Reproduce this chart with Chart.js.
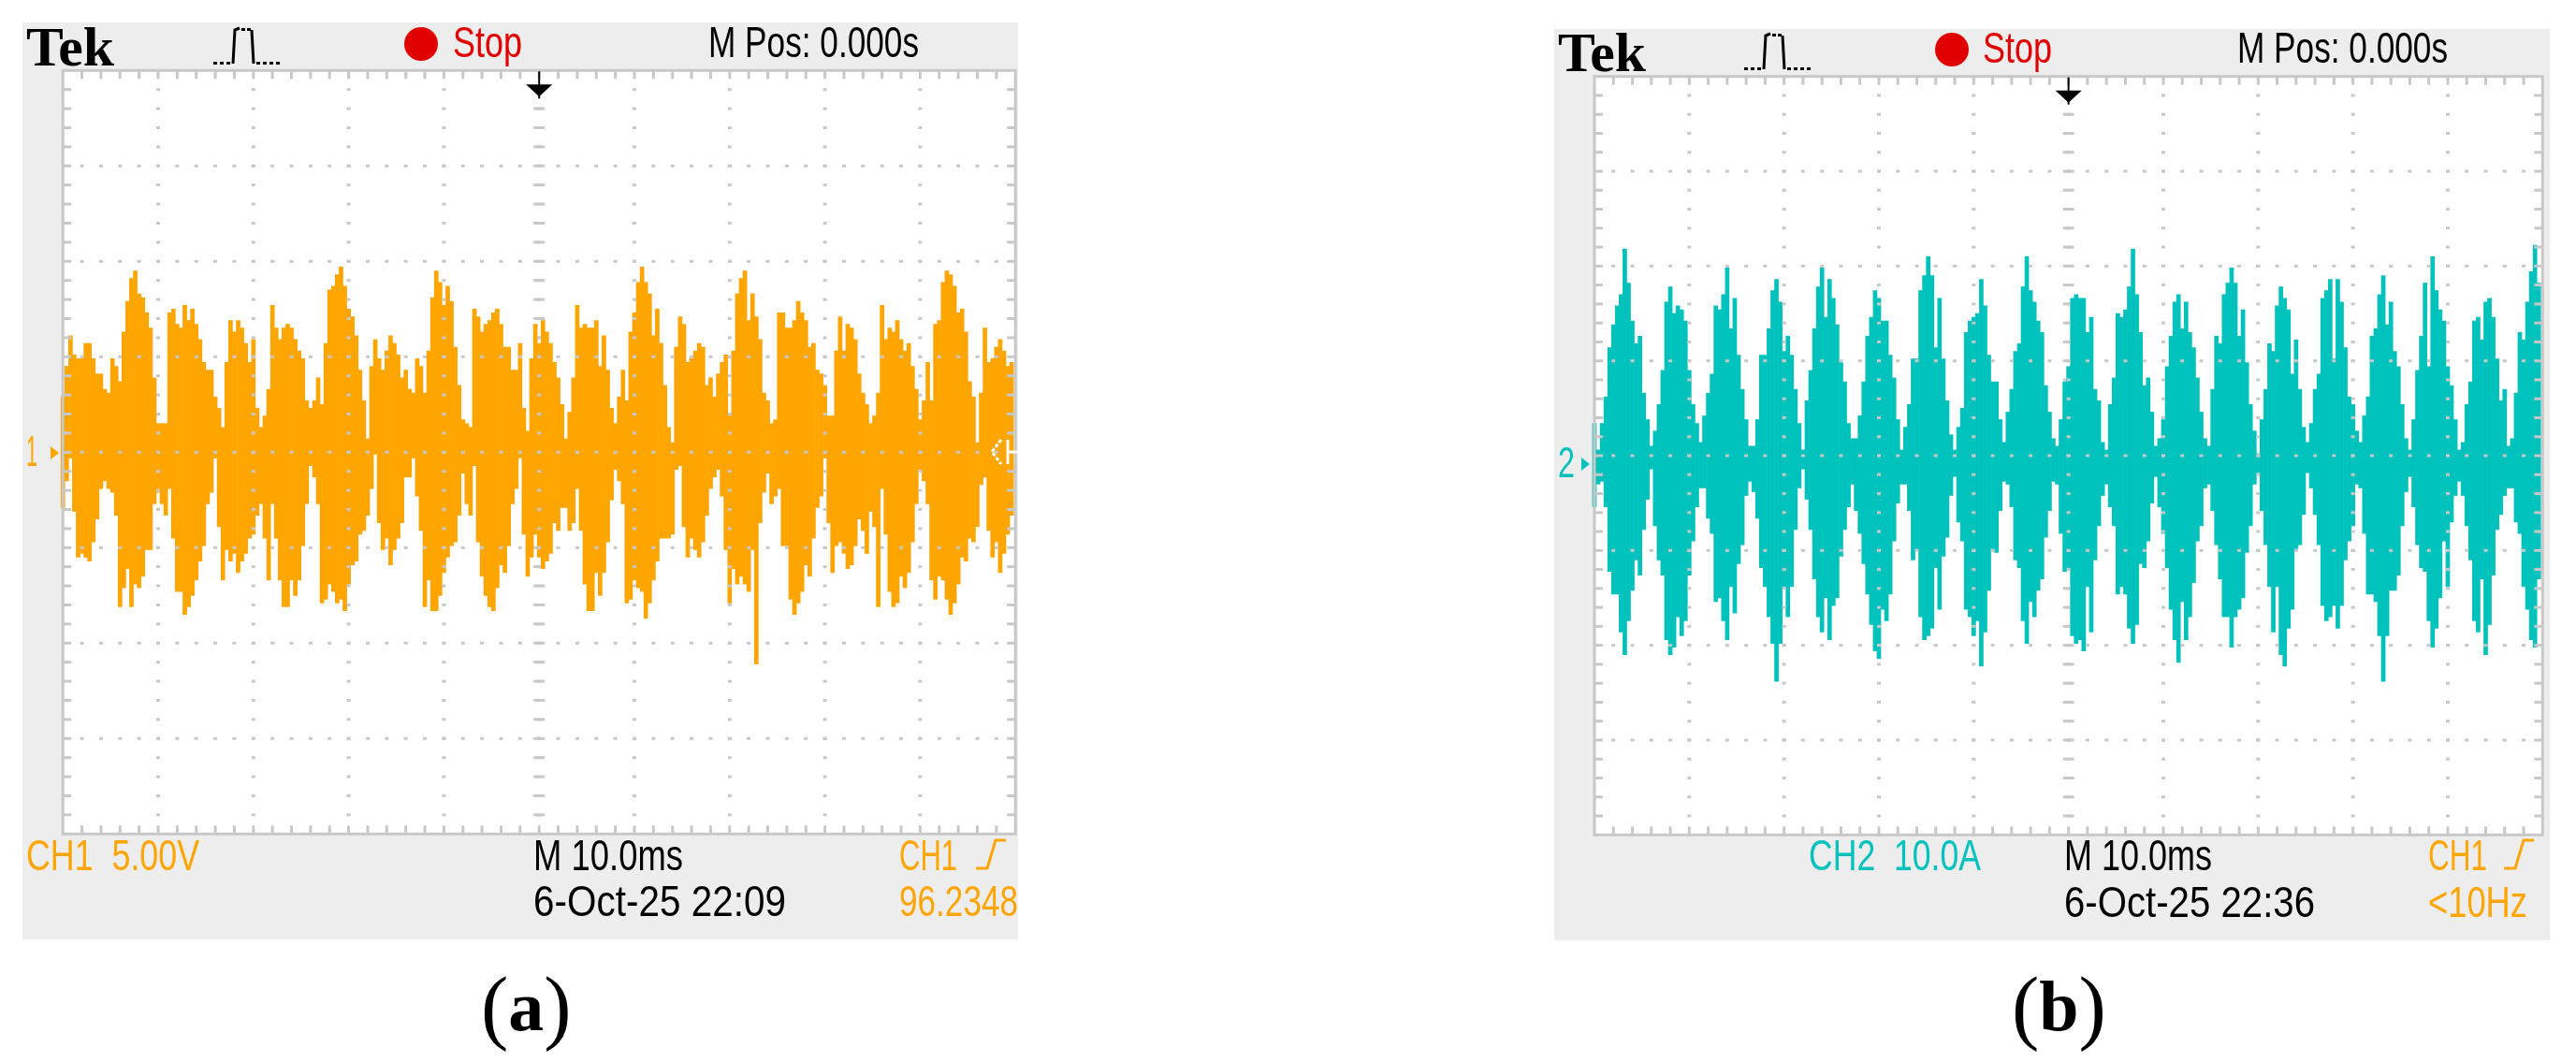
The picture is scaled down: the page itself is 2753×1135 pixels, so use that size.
<!DOCTYPE html>
<html>
<head>
<meta charset="utf-8">
<title>Tek scope captures</title>
<script src="https://cdn.jsdelivr.net/npm/chart.js@4"></script>
<style>
  html, body { margin: 0; padding: 0; background: #fff; }
  canvas { position: absolute; top: 0; }
</style>
</head>
<body>
<canvas id="scopeA"></canvas>
<canvas id="scopeB"></canvas>
<script>
// CH1 voltage, min/max per display column (V)
const ch1High = [
  2.9,4.5,6.1,5.1,4.9,4.9,5.7,5.7,4.9,4.1, 4.1,3.3,3.1,4.9,4.5,3.7,6.3,7.9,9.1,9.5,
  8.3,8.1,7.3,6.5,3.9,1.5,1.5,1.5,7.3,7.5, 6.7,6.5,7.7,6.9,7.5,6.7,5.9,4.7,4.3,4.3,
  2.9,2.3,1.3,4.7,6.9,6.3,6.9,6.5,5.7,4.7, 5.9,2.3,1.3,1.9,3.3,7.7,6.5,5.9,6.5,6.7,
  6.5,5.9,5.3,4.9,2.7,2.3,2.7,3.9,2.5,5.7, 8.5,8.7,9.3,9.7,8.7,7.5,7.1,6.1,4.3,2.7,
  0.7,4.5,5.9,4.9,4.3,5.3,6.1,5.7,5.1,3.9, 4.3,3.3,3.1,4.9,4.5,3.1,5.3,8.1,9.5,8.9,
  7.7,8.7,7.9,5.5,3.5,1.7,1.5,1.3,7.5,7.1, 6.3,6.7,6.9,7.3,7.5,6.7,5.5,5.5,4.3,4.3,
  5.7,2.3,1.1,4.9,6.7,5.7,6.9,6.3,5.7,4.7, 3.9,2.5,0.7,2.1,3.9,7.7,6.5,6.7,6.5,6.5,
  6.9,4.5,6.1,4.3,2.3,1.5,2.9,4.3,2.7,6.3, 7.3,8.9,9.7,8.9,8.3,6.1,7.5,5.7,3.5,1.3,
  0.5,5.5,7.1,6.7,4.7,4.9,5.3,5.7,5.5,3.5, 3.9,2.9,4.1,4.7,5.1,1.9,5.3,8.3,9.1,9.5,
  6.9,8.3,7.1,5.9,3.1,2.7,1.5,1.7,7.3,7.3, 6.5,6.5,6.9,7.9,7.3,6.9,5.5,5.7,4.3,4.1,
  3.5,1.9,1.9,5.3,7.1,5.3,6.7,6.5,5.9,4.1, 3.1,2.5,1.5,1.9,3.1,7.7,5.9,6.5,6.3,6.9,
  5.9,5.3,5.7,4.5,3.3,1.7,2.7,4.7,2.7,6.7, 6.9,8.9,9.5,9.3,8.7,7.3,7.5,6.3,3.7,2.9,
  0.5,3.1,6.5,4.7,4.9,5.5,5.9,5.3,4.5,4.7
];
const ch1Low = [
  -2.9,-1.5,-0.3,-3.1,-5.5,-5.3,-5.5,-5.7,-4.7,-3.5, -1.9,-1.5,-1.9,-2.1,-3.3,-8.1,-7.1,-6.1,-8.1,-6.9,
  -7.1,-6.5,-5.1,-5.1,-2.7,-2.1,-2.7,-3.3,-1.9,-4.5, -7.3,-7.3,-8.5,-8.1,-7.5,-6.7,-5.7,-4.9,-2.7,-2.1,
  -0.3,-3.9,-6.7,-5.1,-5.7,-5.3,-6.3,-5.7,-5.3,-4.5, -4.3,-3.3,-2.7,-4.5,-6.7,-2.7,-4.5,-6.7,-8.1,-8.1,
  -6.7,-7.5,-6.7,-4.9,-2.7,-0.7,-1.3,-2.7,-7.9,-7.7, -6.9,-7.3,-7.9,-7.7,-8.3,-6.9,-5.9,-5.7,-4.3,-4.1,
  -3.3,-1.9,-0.1,-3.7,-5.1,-4.5,-5.9,-5.1,-4.5,-3.7, -1.3,-1.3,-0.3,-2.3,-4.1,-8.1,-6.7,-8.3,-8.3,-7.5,
  -6.3,-5.5,-4.9,-4.7,-3.3,-1.1,-2.7,-3.3,-0.7,-4.7, -6.5,-7.5,-8.1,-8.3,-7.1,-5.9,-6.3,-4.9,-2.7,-1.9,
  -0.3,-4.3,-6.5,-5.5,-4.3,-5.5,-6.1,-5.7,-5.3,-3.7, -4.1,-2.9,-2.9,-4.1,-3.7,-1.9,-4.1,-6.9,-8.3,-8.3,
  -6.3,-7.5,-6.3,-4.7,-2.5,-0.9,-1.5,-2.7,-7.9,-7.7, -6.7,-7.1,-7.3,-8.7,-7.9,-6.7,-5.7,-4.5,-4.5,-4.5,
  -4.3,-0.9,-0.7,-3.9,-5.5,-4.5,-5.1,-5.5,-4.7,-3.3, -1.9,-1.3,-0.9,-2.3,-5.1,-7.9,-6.1,-6.9,-6.5,-6.9,
  -7.3,-5.1,-11.1,-3.7,-2.1,-1.1,-2.7,-2.3,-1.9,-4.9, -4.9,-7.7,-8.5,-7.9,-7.3,-5.9,-6.5,-4.5,-2.9,-2.3,
  -0.3,-3.7,-6.3,-4.9,-4.7,-5.3,-6.1,-5.9,-4.9,-3.5, -4.1,-5.3,-3.1,-3.9,-8.1,-1.9,-4.3,-7.3,-8.1,-7.9,
  -6.5,-7.1,-6.3,-4.7,-2.7,-0.9,-1.5,-2.7,-6.7,-7.7, -6.5,-6.7,-7.7,-8.5,-7.9,-6.9,-5.5,-5.7,-4.5,-4.7,
  -3.9,-1.7,-1.3,-4.1,-5.5,-4.7,-6.3,-5.3,-4.3,-3.3
];

// CH2 current, min/max per display column (A)
const ch2High = [
  3.4,0.6,3.4,6.2,11.4,13.8,15.8,17.0,21.8,18.2, 14.2,11.8,12.6,6.6,3.8,1.0,2.6,5.4,9.0,16.2,
  17.8,15.0,15.8,15.4,14.2,9.0,5.4,3.4,1.4,4.2, 6.6,8.6,15.8,15.4,17.0,19.8,13.4,16.6,10.6,7.0,
  3.8,1.0,1.0,3.8,10.6,10.6,13.4,17.4,18.6,16.2, 11.0,12.6,10.6,7.0,3.4,0.6,5.8,9.0,13.4,17.8,
  19.8,14.6,18.6,16.6,13.8,9.8,7.8,3.4,1.8,1.8, 4.2,7.8,12.6,14.6,17.4,16.6,14.2,14.2,10.6,8.2,
  3.8,0.6,3.0,5.4,10.2,10.2,17.4,19.0,21.0,19.0, 11.4,16.6,10.2,5.8,2.2,0.6,3.0,5.0,13.0,14.2,
  14.6,15.0,18.6,15.8,10.6,7.8,7.8,3.8,1.4,4.6, 7.0,11.0,11.8,17.8,21.0,17.4,16.2,14.2,13.0,7.4,
  4.6,1.8,1.0,3.8,7.8,9.4,16.6,17.0,16.6,16.6, 13.0,14.6,7.0,5.8,1.4,0.6,5.4,8.2,15.0,14.6,
  15.4,17.8,21.8,17.0,13.0,7.4,8.2,4.6,1.0,1.8, 3.8,9.4,12.6,16.2,17.0,13.4,16.2,13.0,11.4,8.2,
  4.6,1.8,1.0,7.0,12.6,11.8,17.0,18.2,19.8,18.2, 12.6,15.4,9.8,5.4,2.6,0.2,3.8,7.0,11.8,11.0,
  15.8,17.8,16.6,15.4,8.6,12.2,7.0,3.0,1.4,3.4, 7.0,8.6,16.6,17.4,18.6,10.2,18.6,16.2,11.4,6.2,
  5.4,2.6,1.4,4.2,6.2,12.6,13.4,17.0,19.0,13.8, 16.2,11.0,9.4,5.4,1.8,0.6,3.8,9.0,12.6,18.2,
  9.4,21.0,17.4,15.4,14.2,9.4,7.4,3.8,0.6,1.4, 5.4,7.8,14.2,14.6,12.2,16.2,16.6,14.6,10.2,5.8,
  7.0,1.0,1.8,6.6,13.0,12.2,16.2,19.4,22.2,18.2
];
const ch2Low = [
  -5.4,-3.0,-2.7,-5.4,-12.2,-14.6,-14.6,-18.6,-21.0,-17.4, -14.2,-11.0,-12.6,-7.8,-4.6,-1.4,-7.4,-11.0,-12.6,-19.4,
  -21.0,-20.2,-17.0,-19.0,-17.4,-12.6,-9.0,-5.4,-3.4,-3.4, -6.6,-8.2,-15.4,-15.0,-17.4,-19.4,-13.8,-16.6,-11.4,-9.4,
  -4.2,-2.7,-3.8,-6.6,-11.8,-13.8,-17.0,-19.8,-23.8,-19.8, -13.8,-17.0,-13.8,-7.8,-3.4,-1.4,-4.6,-7.8,-13.0,-17.0,
  -18.6,-15.0,-19.4,-15.8,-15.0,-10.6,-7.8,-5.4,-3.0,-5.8, -8.2,-11.4,-14.6,-17.8,-20.6,-21.4,-16.2,-17.4,-14.6,-9.0,
  -5.0,-3.0,-3.0,-5.8,-11.0,-9.8,-17.0,-19.4,-19.0,-18.2, -11.8,-16.2,-10.6,-8.6,-4.2,-2.2,-7.0,-9.0,-16.2,-17.0,
  -19.0,-17.4,-22.2,-18.6,-14.2,-9.8,-10.2,-5.8,-2.7,-3.0, -5.4,-11.0,-11.8,-17.4,-19.8,-15.4,-17.0,-14.2,-13.0,-8.6,
  -5.8,-2.7,-3.0,-8.2,-12.2,-11.8,-19.0,-19.8,-19.4,-20.6, -13.8,-18.6,-11.0,-7.4,-4.2,-3.0,-5.4,-7.4,-14.6,-13.8,
  -14.6,-18.2,-19.8,-17.8,-11.4,-11.8,-9.0,-5.0,-2.2,-5.4, -8.2,-11.8,-16.2,-19.4,-21.8,-15.4,-19.4,-17.0,-13.4,-9.0,
  -7.4,-3.4,-3.0,-5.8,-9.4,-13.0,-17.0,-17.0,-20.2,-17.0, -16.2,-15.0,-10.2,-7.4,-3.0,-1.8,-5.8,-9.4,-13.8,-18.6,
  -13.8,-21.0,-22.2,-18.2,-16.2,-9.8,-9.4,-6.2,-1.8,-3.4, -6.2,-9.4,-15.8,-17.4,-17.0,-15.8,-18.2,-15.8,-11.0,-9.0,
  -7.4,-3.0,-3.4,-8.2,-14.6,-14.6,-15.4,-19.0,-23.8,-19.0, -14.2,-14.2,-12.6,-7.4,-3.8,-2.2,-5.4,-9.4,-11.8,-12.2,
  -17.4,-20.2,-18.2,-15.0,-9.0,-13.8,-7.0,-4.2,-2.7,-4.2, -7.4,-11.0,-17.4,-18.6,-13.0,-21.0,-17.8,-12.6,-7.8,-6.2,
  -4.2,-3.4,-3.4,-7.0,-8.2,-13.8,-16.2,-19.4,-20.2,-13.0
];

const ORANGE = "#ffa500";
const CYAN = "#00c2bd";
const RED = "#e00000";
const GRID = "#c8c8c8";
const PANEL = "#ededed";
const NARROW = '"Liberation Sans Narrow", "Liberation Sans", sans-serif';
const SERIF = '"Liberation Serif", serif';

// text on each scope screen: [text, x, baseline, maxWidth, colour]
const labelsA = [
  ["Stop", 484, 61, 74, RED],
  ["M Pos: 0.000s", 757, 61, 225, "#000"],
  ["CH1  5.00V", 28, 930, 185, ORANGE],
  ["M 10.0ms", 570, 930, 160, "#000"],
  ["6-Oct-25 22:09", 570, 979, 270, "#000"],
  ["CH1", 961, 930, 62, ORANGE],
  ["96.2348", 961, 979, 127, ORANGE],
  ["1", 28, 498, 12, ORANGE]
];
const labelsB = [
  ["Stop", 2119, 67, 74, RED],
  ["M Pos: 0.000s", 2391, 67, 225, "#000"],
  ["CH2  10.0A", 1933, 930, 184, CYAN],
  ["M 10.0ms", 2206, 930, 158, "#000"],
  ["6-Oct-25 22:36", 2206, 980, 268, "#000"],
  ["CH1", 2595, 930, 63, ORANGE],
  ["<10Hz", 2595, 980, 106, ORANGE],
  ["2", 1665, 510, 18, CYAN]
];

function polyline(ctx, pts, color, width) {
  ctx.strokeStyle = color;
  ctx.lineWidth = width;
  ctx.beginPath();
  pts.forEach(([x, y], i) => i ? ctx.lineTo(x, y) : ctx.moveTo(x, y));
  ctx.stroke();
}

// the pulse icon next to Tek
function drawPulse(ctx, x, y) {
  ctx.fillStyle = "#000";
  [0, 7, 14].forEach(d => ctx.fillRect(x + d, y + 36, 4, 3));
  [46, 53, 60, 67].forEach(d => ctx.fillRect(x + d, y + 36, 4, 3));
  polyline(ctx, [[x + 21, y + 38], [x + 23, y + 2], [x + 28, y]], "#000", 3);
  [30, 36].forEach(d => ctx.fillRect(x + d, y, 4, 3));
  polyline(ctx, [[x + 41, y + 2], [x + 43, y + 38]], "#000", 3);
}

// everything around the trace: bezel, graticule, readouts
function scopePlugin(cfg) {
  return {
    id: "scope",
    beforeDatasetsDraw(chart) {
      const ctx = chart.ctx;
      const a = chart.chartArea;
      ctx.save();
      ctx.translate(-cfg.left, 0);
      ctx.fillStyle = PANEL;
      ctx.fillRect(cfg.box[0], cfg.box[1], cfg.box[2] - cfg.box[0], cfg.box[3] - cfg.box[1]);
      ctx.fillStyle = "#fff";
      ctx.fillRect(a.left + cfg.left, a.top, a.right - a.left, a.bottom - a.top);
      ctx.restore();
      // wide centre column dashes sit behind the trace
      ctx.save();
      ctx.fillStyle = GRID;
      const cx = chart.scales.x.getPixelForValue(0);
      for (let j = 1; j < 40; j++) {
        const py = chart.scales.y.getPixelForValue(cfg.yMax - j * cfg.yStep);
        ctx.fillRect(cx - 6, py - 1.5, 12, 3);
      }
      ctx.restore();
    },
    afterDatasetsDraw(chart) {
      const ctx = chart.ctx;
      const { x, y } = chart.scales;
      const a = chart.chartArea;
      ctx.save();
      ctx.fillStyle = GRID;
      // fifth-of-division dots and edge ticks
      for (let k = 0; k <= 50; k++) {
        const px = x.getPixelForValue(-50 + k * 2);
        if (k % 5 === 0 && k > 0 && k < 50) {
          for (let j = 1; j < 40; j++) {
            const py = y.getPixelForValue(cfg.yMax - j * cfg.yStep);
            ctx.fillRect(px - 2, py - 1.5, 4, 3);
          }
        }
        if (k > 0 && k < 50) {
          ctx.fillRect(px - 1.5, a.top, 3, 9);
          ctx.fillRect(px - 1.5, a.bottom - 9, 3, 9);
          for (let h = 1; h < 8; h++) {
            const py = y.getPixelForValue(cfg.yMax - h * 5 * cfg.yStep);
            ctx.fillRect(px - 2, py - 1.5, 4, 3);
          }
        }
      }
      for (let j = 1; j < 40; j++) {
        const py = y.getPixelForValue(cfg.yMax - j * cfg.yStep);
        ctx.fillRect(a.left, py - 1.5, 9, 3);
        ctx.fillRect(a.right - 9, py - 1.5, 9, 3);
      }
      ctx.strokeStyle = GRID;
      ctx.lineWidth = 3;
      ctx.strokeRect(a.left, a.top, a.right - a.left, a.bottom - a.top);

      // trigger position arrow
      const cx = x.getPixelForValue(0);
      polyline(ctx, [[cx, a.top + 1], [cx, a.top + 30]], "#000", 2);
      ctx.fillStyle = "#000";
      ctx.beginPath();
      ctx.moveTo(cx - 14, a.top + 15);
      ctx.lineTo(cx + 14, a.top + 15);
      ctx.lineTo(cx, a.top + 28);
      ctx.closePath();
      ctx.fill();

      ctx.translate(-cfg.left, 0);

      // channel ground marker
      const gy = cfg.groundY;
      ctx.fillStyle = cfg.color;
      ctx.beginPath();
      ctx.moveTo(cfg.markX, gy - 7);
      ctx.lineTo(cfg.markX + 9, gy);
      ctx.lineTo(cfg.markX, gy + 7);
      ctx.closePath();
      ctx.fill();

      ctx.textBaseline = "alphabetic";
      ctx.textAlign = "left";
      ctx.fillStyle = "#000";
      ctx.font = "bold 60px " + SERIF;
      ctx.fillText("Tek", cfg.tek[0], cfg.tek[1], 94);
      drawPulse(ctx, cfg.pulse[0], cfg.pulse[1]);

      ctx.fillStyle = RED;
      ctx.beginPath();
      ctx.arc(cfg.stop[0], cfg.stop[1], 18, 0, Math.PI * 2);
      ctx.fill();

      cfg.labels.forEach(([t, lx, ly, w, c]) => {
        ctx.fillStyle = c;
        ctx.font = "46px " + NARROW;
        ctx.fillText(t, lx, ly, w);
      });

      // rising edge glyph of the trigger readout
      const [ex, ey] = cfg.edge;
      polyline(ctx, [[ex, ey], [ex + 12, ey], [ex + 21, ey - 30], [ex + 32, ey - 30]], ORANGE, 3);

      if (cfg.trigMark) {
        const [tx, ty] = cfg.trigMark;
        ctx.setLineDash([4, 2]);
        polyline(ctx, [[tx + 10, ty - 13], [tx, ty], [tx + 10, ty + 13]], "#fff", 3);
        ctx.setLineDash([]);
        polyline(ctx, [[tx + 17, ty - 13], [tx + 17, ty + 13]], "#fff", 3);
        polyline(ctx, [[tx + 17, ty], [tx + 29, ty]], "#fff", 3);
      }

      // caption: thin tall brackets round a bold letter
      ctx.fillStyle = "#000";
      const [capX, capY] = cfg.caption;
      ctx.font = "88px " + SERIF;
      ctx.fillText("(", capX, capY + 4);
      let cur = capX + ctx.measureText("(").width;
      ctx.font = "bold 76px " + SERIF;
      ctx.fillText(cfg.captionLetter, cur, capY);
      cur += ctx.measureText(cfg.captionLetter).width;
      ctx.font = "88px " + SERIF;
      ctx.fillText(")", cur, capY + 4);
      ctx.restore();
    }
  };
}

function makeScope(id, cfg) {
  const canvas = document.getElementById(id);
  canvas.style.left = cfg.left + "px";
  canvas.width = cfg.width;
  canvas.height = 1135;
  const points = cfg.high.map((h, i) => ({ x: -50 + i * 0.4, y: [cfg.low[i], h] }));
  return new Chart(canvas, {
    type: "bar",
    data: {
      datasets: [{
        label: cfg.name,
        data: points,
        backgroundColor: cfg.color,
        borderWidth: 0,
        barPercentage: 1,
        categoryPercentage: 1,
        clip: false
      }]
    },
    options: {
      responsive: false,
      animation: false,
      devicePixelRatio: 1,
      layout: {
        padding: {
          left: cfg.plot[0] - cfg.left,
          top: cfg.plot[1],
          right: cfg.left + cfg.width - cfg.plot[2],
          bottom: 1135 - cfg.plot[3]
        }
      },
      plugins: { legend: { display: false }, tooltip: { enabled: false } },
      scales: {
        x: { type: "linear", min: -50, max: 50, display: false, offset: false },
        y: { min: -cfg.yMax, max: cfg.yMax, display: false }
      }
    },
    plugins: [scopePlugin(cfg)]
  });
}

makeScope("scopeA", {
  name: "CH1", high: ch1High, low: ch1Low, color: ORANGE,
  left: 0, width: 1376,
  box: [24, 24, 1088, 1004],
  plot: [67.2, 75.3, 1085.2, 891.3],
  yMax: 20, yStep: 1,
  groundY: 484, markX: 54,
  tek: [28, 70], pulse: [228, 30], stop: [450, 47],
  labels: labelsA, edge: [1043, 928],
  trigMark: [1060, 483],
  caption: [514, 1101], captionLetter: "a"
});

makeScope("scopeB", {
  name: "CH2", high: ch2High, low: ch2Low, color: CYAN,
  left: 1376, width: 1377,
  box: [1661, 31, 2725, 1005],
  plot: [1704, 81.7, 2717.3, 892.3],
  yMax: 40, yStep: 2,
  groundY: 496, markX: 1690,
  tek: [1665, 76], pulse: [1864, 36], stop: [2086, 53],
  labels: labelsB, edge: [2676, 928],
  caption: [2150, 1101], captionLetter: "b"
});
</script>
</body>
</html>
